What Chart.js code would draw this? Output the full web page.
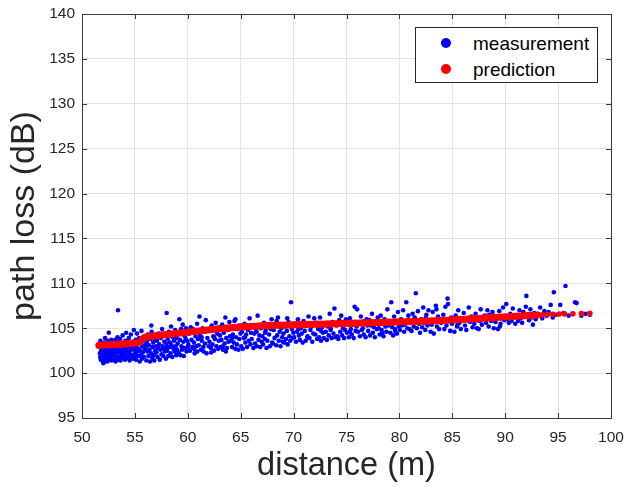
<!DOCTYPE html>
<html>
<head>
<meta charset="utf-8">
<script src="https://cdn.jsdelivr.net/npm/chart.js@4"></script>
<style>
  html, body { margin: 0; padding: 0; background: #fff; }
  #wrap { position: relative; width: 624px; height: 488px; }
  #legend { position: absolute; left: 415px; top: 27px; width: 181px; height: 54px; border: 1px solid #262626; background: #fff; font-family: "Liberation Sans", Arial, sans-serif; font-size: 19px; color: #000; }
  .dot { position: absolute; width: 10px; height: 10px; border-radius: 50%; left: 25px; }
  .lab { position: absolute; left: 57px; line-height: 22px; white-space: nowrap; }
</style>
</head>
<body>
<div id="wrap">
  <canvas id="c" width="624" height="488"></canvas>
  <div id="legend">
    <div class="dot" style="top:10px;background:#0000ff"></div>
    <div class="lab" style="top:5px">measurement</div>
    <div class="dot" style="top:36px;background:#ff0000"></div>
    <div class="lab" style="top:31px">prediction</div>
  </div>
</div>
<script>
const xTicks = [50, 55, 60, 65, 70, 75, 80, 85, 90, 95, 100];
const yTicks = [95, 100, 105, 110, 115, 120, 125, 130, 135, 140];
const seriesNames = ["measurement", "prediction"];

const measurement = [
[51.7,102.2],[51.72,101.8],[51.75,102.9],[51.78,101.5],[51.8,102.5],[51.82,103.3],[51.85,101.9],[51.88,102.7],[51.9,101.6],[51.92,103.0],[51.95,102.3],[51.97,101.3],[51.98,102.0],[51.74,103.6],[51.86,102.1],
[52.02,101.1],[52.05,102.8],[52.08,101.7],[52.1,103.4],[52.12,102.2],[52.15,101.4],[52.18,103.9],[52.2,102.6],[52.23,101.9],[52.25,102.4],[52.28,103.1],[52.3,101.6],[52.33,102.0],[52.36,102.9],[52.4,101.3],[52.43,103.6],[52.46,102.3],[52.5,101.8],[52.53,104.5],[52.56,102.7],[52.6,101.5],[52.63,103.2],[52.66,102.1],[52.7,101.7],[52.73,102.5],[52.76,103.7],[52.8,101.4],[52.84,102.8],[52.88,102.0],[52.92,103.3],[52.96,101.9],
[53.0,102.4],[53.04,101.6],[53.07,103.0],[53.1,102.1],[53.14,103.7],[53.18,101.3],[53.22,102.7],[53.25,103.5],[53.28,101.9],[53.32,102.3],[53.36,104.0],[53.4,107.0],[53.42,101.5],[53.46,102.9],[53.5,103.4],[53.53,101.8],[53.57,102.5],[53.6,103.8],[53.64,101.4],[53.68,102.2],[53.72,103.1],[53.76,101.7],[53.8,102.6],[53.84,104.2],[53.88,102.0],[53.92,103.3],[53.96,101.9],[53.98,102.8],
[54.02,102.3],[54.06,101.5],[54.1,103.6],[54.14,102.7],[54.18,104.5],[54.22,101.9],[54.26,102.4],[54.3,103.2],[54.34,101.7],[54.38,102.9],[54.42,103.9],[54.46,102.1],[54.5,101.4],[54.54,103.0],[54.58,102.5],[54.62,104.3],[54.66,101.8],[54.7,102.8],[54.74,103.5],[54.78,102.0],[54.82,101.6],[54.86,103.1],[54.9,104.8],[54.94,102.6],[54.97,103.4],[54.99,101.9],
[55.03,102.2],[55.07,103.7],[55.11,101.5],[55.15,102.9],[55.2,104.4],[55.24,102.4],[55.28,103.3],[55.32,101.9],[55.36,102.7],[55.4,103.9],[55.45,101.3],[55.5,102.5],[55.54,103.6],[55.58,102.0],[55.62,104.7],[55.66,101.6],[55.7,103.0],[55.75,102.3],[55.8,103.8],[55.85,101.8],[55.9,102.8],[55.94,104.1],[55.97,102.6],[55.99,103.2],
[56.03,102.9],[56.08,101.4],[56.13,103.5],[56.18,102.4],[56.23,104.3],[56.28,101.9],[56.33,103.1],[56.38,102.6],[56.43,101.3],[56.48,103.8],[56.53,102.2],[56.58,104.6],[56.63,101.7],[56.68,102.9],[56.73,103.4],[56.78,102.0],[56.83,101.4],[56.88,103.7],[56.92,102.5],[56.96,104.0],[56.99,103.0],[56.55,105.3],
[57.04,102.3],[57.09,103.6],[57.14,101.8],[57.2,102.8],[57.25,104.4],[57.3,103.2],[57.36,101.5],[57.41,102.6],[57.46,103.9],[57.52,102.1],[57.57,104.9],[57.62,103.0],[57.68,101.9],[57.73,102.7],[57.78,103.5],[57.83,102.4],[57.88,104.2],[57.93,101.6],[57.97,103.3],[57.99,102.9],
[58.0,106.7],[58.05,102.5],[58.1,103.8],[58.15,101.9],[58.2,104.6],[58.26,102.9],[58.31,103.4],[58.37,102.2],[58.42,105.2],[58.47,103.1],[58.53,101.8],[58.58,104.0],[58.64,102.7],[58.7,103.6],[58.75,102.4],[58.8,104.8],[58.85,103.0],[58.9,102.0],[58.95,103.9],[58.99,102.6],
[59.04,103.3],[59.09,104.5],[59.14,102.3],[59.2,106.0],[59.25,103.7],[59.3,102.0],[59.36,104.9],[59.41,103.0],[59.46,102.6],[59.52,105.4],[59.57,103.5],[59.62,101.9],[59.68,104.2],[59.73,102.8],[59.78,103.9],[59.83,105.0],[59.88,102.4],[59.93,103.6],[59.97,104.7],[59.99,102.9],
[60.05,103.2],[60.12,104.4],[60.2,102.5],[60.28,105.1],[60.35,103.7],[60.43,102.9],[60.5,104.9],[60.58,103.4],[60.65,102.2],[60.73,104.1],[60.8,103.0],[60.88,105.5],[60.95,103.8],[60.6,102.7],[60.38,104.6],[60.9,102.4],
[61.04,103.1],[61.1,106.3],[61.17,104.2],[61.25,102.6],[61.32,103.6],[61.4,105.0],[61.47,102.9],[61.55,104.6],[61.62,103.3],[61.7,105.9],[61.77,102.2],[61.85,103.9],[61.92,104.8],[61.98,103.0],[61.5,102.4],[61.3,104.0],
[62.04,103.5],[62.1,104.7],[62.18,102.8],[62.26,105.3],[62.33,103.2],[62.41,104.1],[62.48,102.5],[62.56,103.8],[62.63,105.6],[62.71,103.0],[62.78,104.4],[62.86,102.7],[62.93,103.6],[62.98,105.1],[62.5,104.0],[62.2,102.3],
[63.03,104.2],[63.1,102.9],[63.18,103.7],[63.25,105.4],[63.33,102.6],[63.4,104.5],[63.48,103.3],[63.55,106.2],[63.63,103.9],[63.7,102.8],[63.78,104.8],[63.85,103.5],[63.93,105.7],[63.98,104.1],[63.6,102.4],[63.3,103.0],
[64.04,103.6],[64.11,105.0],[64.19,102.9],[64.26,104.3],[64.34,103.4],[64.41,105.8],[64.49,102.7],[64.56,104.0],[64.64,103.2],[64.71,104.9],[64.79,102.6],[64.86,103.8],[64.93,105.3],[64.98,104.4],[64.5,106.0],[64.2,103.9],
[65.05,103.0],[65.12,104.6],[65.2,102.7],[65.28,103.9],[65.36,105.5],[65.44,103.4],[65.52,104.3],[65.6,102.9],[65.68,104.8],[65.76,103.6],[65.84,106.1],[65.92,103.2],[65.98,104.5],[65.4,104.0],
[66.04,103.8],[66.12,105.2],[66.2,102.8],[66.28,104.4],[66.36,103.3],[66.44,104.9],[66.52,103.0],[66.6,106.4],[66.68,103.7],[66.76,104.2],[66.84,102.9],[66.92,105.0],[66.98,103.5],[66.5,104.6],
[67.04,104.1],[67.12,103.2],[67.2,105.6],[67.28,103.8],[67.36,104.7],[67.44,102.8],[67.52,103.6],[67.6,105.1],[67.68,104.3],[67.76,103.0],[67.84,104.9],[67.92,106.0],[67.98,103.4],[67.3,104.5],
[68.04,103.3],[68.12,104.8],[68.2,103.9],[68.28,105.4],[68.36,103.1],[68.44,104.2],[68.52,106.2],[68.6,103.6],[68.68,104.6],[68.76,103.0],[68.84,105.0],[68.92,104.0],[68.98,103.5],[68.4,105.8],
[69.04,104.4],[69.12,103.4],[69.2,105.2],[69.28,103.8],[69.36,104.7],[69.44,103.2],[69.52,105.7],[69.6,104.1],[69.68,103.6],[69.76,107.9],[69.84,104.9],[69.92,103.9],[69.98,104.5],[69.4,106.1],
[70.05,104.0],[70.14,105.3],[70.23,103.5],[70.32,104.6],[70.41,106.0],[70.5,104.2],[70.59,103.7],[70.68,105.0],[70.77,104.4],[70.86,103.4],[70.95,105.8],[70.45,104.9],
[71.05,104.7],[71.14,103.6],[71.23,105.5],[71.32,104.1],[71.41,106.3],[71.5,103.9],[71.59,104.8],[71.68,105.2],[71.77,103.5],[71.86,104.4],[71.95,106.1],[71.3,104.0],
[72.05,104.3],[72.14,105.6],[72.23,103.8],[72.32,104.9],[72.41,104.0],[72.5,106.2],[72.59,103.6],[72.68,105.1],[72.77,104.5],[72.86,103.9],[72.95,105.4],[72.6,104.7],
[73.05,104.6],[73.14,103.7],[73.23,105.2],[73.32,104.2],[73.41,106.6],[73.5,104.8],[73.59,103.9],[73.68,105.7],[73.77,104.4],[73.86,107.2],[73.95,104.0],[73.5,105.0],
[74.05,105.3],[74.14,104.1],[74.23,103.8],[74.32,105.9],[74.41,104.6],[74.5,106.4],[74.59,104.2],[74.68,105.0],[74.77,103.9],[74.86,104.8],[74.95,106.0],[74.4,105.5],
[75.05,104.5],[75.14,105.6],[75.23,104.0],[75.32,106.1],[75.41,104.9],[75.5,104.3],[75.59,105.4],[75.68,103.9],[75.77,107.4],[75.86,104.7],[75.95,105.2],[75.3,104.6],
[76.0,107.1],[76.09,104.6],[76.18,105.5],[76.27,104.1],[76.36,106.3],[76.45,104.8],[76.54,105.0],[76.63,104.3],[76.72,105.8],[76.81,104.0],[76.9,106.0],[76.97,105.3],
[77.05,104.7],[77.14,105.9],[77.23,104.2],[77.32,105.3],[77.41,106.6],[77.5,104.5],[77.59,105.1],[77.68,104.0],[77.77,105.7],[77.86,104.9],[77.95,106.2],[77.5,105.4],
[78.05,105.0],[78.14,104.3],[78.23,106.4],[78.32,104.8],[78.41,105.5],[78.5,104.1],[78.59,106.0],[78.68,105.2],[78.77,104.6],[78.86,107.1],[78.95,105.3],[78.4,104.5],
[79.05,105.8],[79.14,104.5],[79.23,107.9],[79.32,105.1],[79.41,104.2],[79.5,106.3],[79.59,104.9],[79.68,105.6],[79.77,104.4],[79.86,106.8],[79.95,105.2],[79.6,104.7],
[80.05,104.8],[80.15,106.0],[80.25,105.3],[80.35,107.0],[80.45,104.6],[80.55,105.7],[80.65,107.9],[80.75,105.0],[80.85,106.4],[80.95,104.9],[80.5,105.4],
[81.05,105.6],[81.15,104.7],[81.25,106.6],[81.35,105.2],[81.45,106.2],[81.55,108.9],[81.65,105.0],[81.75,106.9],[81.85,105.5],[81.95,104.5],[81.5,105.9],
[82.05,106.0],[82.15,105.1],[82.25,107.3],[82.35,105.6],[82.45,104.8],[82.55,106.5],[82.65,105.3],[82.75,107.0],[82.85,105.8],[82.95,104.6],[82.5,106.2],
[83.05,105.4],[83.15,106.8],[83.25,104.4],[83.35,105.9],[83.45,107.5],[83.55,105.2],[83.65,106.3],[83.75,104.9],[83.85,106.0],[83.95,105.6],[83.5,107.1],
[84.05,105.7],[84.15,106.5],[84.25,104.9],[84.35,107.4],[84.45,105.3],[84.55,108.3],[84.6,107.7],[84.7,105.9],[84.8,104.7],[84.9,106.2],[84.97,105.5],
[85.08,105.8],[85.2,104.6],[85.32,106.4],[85.44,105.2],[85.56,107.0],[85.68,105.6],[85.8,104.9],[85.92,106.1],[85.5,105.4],
[86.08,106.7],[86.2,105.3],[86.32,104.8],[86.44,106.0],[86.56,107.3],[86.68,105.7],[86.8,106.3],[86.92,105.1],[86.5,105.9],
[87.08,105.5],[87.2,106.6],[87.32,105.0],[87.44,106.2],[87.56,105.8],[87.68,107.1],[87.8,105.4],[87.92,106.0],[87.5,104.9],
[88.08,106.4],[88.2,105.6],[88.32,107.0],[88.44,105.2],[88.56,106.1],[88.68,105.8],[88.8,106.8],[88.92,105.0],[88.5,106.5],
[89.08,105.7],[89.2,106.3],[89.32,104.9],[89.44,106.9],[89.56,105.5],[89.68,106.1],[89.8,107.3],[89.92,105.9],[89.5,105.2],
[90.1,107.7],[90.22,106.0],[90.35,105.6],[90.48,106.6],[90.6,105.8],[90.72,107.2],[90.85,106.2],[90.95,105.5],
[91.1,106.4],[91.22,105.8],[91.35,107.0],[91.48,106.1],[91.6,105.6],[91.72,106.8],[91.85,106.3],[91.95,107.4],
[92.0,108.6],[92.12,106.5],[92.25,105.9],[92.38,107.1],[92.5,106.2],[92.62,105.4],[92.75,106.7],[92.88,106.0],
[93.1,106.6],[93.3,107.3],[93.5,106.1],[93.7,106.9],[93.9,106.4],[94.1,106.8],[94.3,107.6],[94.5,106.2],[94.6,109.0],[94.8,106.5],
[95.2,107.6],[95.5,106.7],[95.7,109.7],[96.0,106.4],[96.6,107.9],[96.75,107.8],[97.2,106.4],[97.6,106.6],[98.0,106.5]
];

const prediction = [
[51.6,103.10],[51.9,103.12],[52.2,103.14],[52.5,103.16],[52.8,103.18],[53.1,103.20],[53.4,103.22],[53.7,103.24],[54.0,103.26],[54.3,103.28],[54.6,103.30],[54.9,103.33],[55.2,103.36],[55.5,103.55],[55.7,103.75],[55.9,103.95],
[56.1,104.05],[56.4,104.09],[56.7,104.13],[57.0,104.17],[57.3,104.21],[57.6,104.25],[57.9,104.29],[58.2,104.33],[58.5,104.37],[58.8,104.41],[59.1,104.45],[59.4,104.49],[59.7,104.52],
[60.0,104.56],[60.3,104.60],[60.6,104.64],[60.9,104.68],[61.2,104.72],[61.5,104.76],[61.8,104.80],[62.1,104.84],[62.4,104.88],[62.7,104.91],[63.0,104.94],[63.3,104.97],[63.6,105.00],[63.9,105.03],[64.2,105.06],[64.5,105.09],[64.8,105.12],
[65.1,105.14],[65.4,105.16],[65.7,105.18],[66.0,105.20],[66.3,105.22],[66.6,105.24],[66.9,105.26],[67.2,105.28],[67.5,105.30],[67.8,105.31],[68.1,105.32],[68.4,105.33],[68.7,105.34],[69.0,105.35],[69.3,105.36],[69.6,105.37],[69.9,105.38],
[70.2,105.39],[70.5,105.40],[70.8,105.41],[71.1,105.42],[71.4,105.43],[71.7,105.43],[72.0,105.44],[72.3,105.45],[72.6,105.46],[72.9,105.47],[73.2,105.48],[73.5,105.49],[73.8,105.50],[74.1,105.51],[74.4,105.52],[74.7,105.53],
[75.0,105.54],[75.3,105.55],[75.6,105.56],[75.9,105.57],[76.2,105.58],[76.5,105.59],[76.8,105.60],[77.1,105.61],[77.4,105.62],[77.7,105.63],[78.0,105.64],[78.3,105.65],[78.6,105.66],[78.9,105.67],[79.2,105.68],[79.5,105.69],[79.8,105.70],
[80.1,105.71],[80.4,105.72],[80.7,105.73],[81.0,105.74],[81.3,105.75],[81.6,105.76],[81.9,105.77],[82.2,105.78],[82.5,105.79],[82.8,105.80],[83.1,105.81],[83.4,105.82],[83.7,105.84],[84.0,105.86],[84.3,105.88],[84.6,105.90],[84.9,105.92],
[85.2,105.94],[85.5,105.96],[85.8,105.98],[86.1,106.00],[86.4,106.02],[86.7,106.04],[87.0,106.06],[87.3,106.08],[87.6,106.10],[87.9,106.12],[88.2,106.14],[88.5,106.16],[88.8,106.18],[89.1,106.20],[89.4,106.22],[89.7,106.24],
[90.0,106.26],[90.3,106.28],[90.6,106.30],[90.9,106.32],[91.2,106.34],[91.5,106.36],[91.8,106.38],[92.1,106.40],[92.4,106.42],[92.7,106.44],[93.0,106.46],
[93.5,106.50],[94.0,106.52],[94.5,106.55],[95.1,106.58],[95.6,106.60],[96.4,106.62],[97.2,106.64],[98.0,106.65]
];

const TXT = '#262626';
const FONT = '"Liberation Sans", Arial, sans-serif';

const boxPlugin = {
  id: 'matlabBox',
  afterDraw(chart) {
    const {ctx, chartArea: a, scales} = chart;
    ctx.save();
    ctx.strokeStyle = '#3a3a3a';
    ctx.lineWidth = 1;
    ctx.beginPath();
    const L = 5;
    scales.x.ticks.forEach(t => {
      const px = Math.round(scales.x.getPixelForValue(t.value)) + 0.5;
      ctx.moveTo(px, a.bottom); ctx.lineTo(px, a.bottom - L);
      ctx.moveTo(px, a.top); ctx.lineTo(px, a.top + L);
    });
    scales.y.ticks.forEach(t => {
      const py = Math.round(scales.y.getPixelForValue(t.value)) + 0.5;
      ctx.moveTo(a.left, py); ctx.lineTo(a.left + L, py);
      ctx.moveTo(a.right, py); ctx.lineTo(a.right - L, py);
    });
    ctx.stroke();
    ctx.strokeRect(Math.round(a.left) + 0.5, Math.round(a.top) + 0.5, Math.round(a.right - a.left), Math.round(a.bottom - a.top));
    ctx.restore();
  }
};

new Chart(document.getElementById('c'), {
  type: 'scatter',
  data: {
    datasets: [
      {
        label: seriesNames[1],
        data: prediction.map(p => ({x: p[0], y: p[1]})),
        backgroundColor: '#ff0000',
        borderWidth: 0,
        pointRadius: c => (c.raw && c.raw.x > 93.2) ? 2.8 : 3.6,
        order: 0
      },
      {
        label: seriesNames[0],
        data: measurement.map(p => ({x: p[0], y: p[1]})),
        backgroundColor: '#0000ff',
        borderWidth: 0,
        pointRadius: 2.3,
        order: 1
      }
    ]
  },
  options: {
    responsive: false,
    animation: false,
    devicePixelRatio: 1,
    layout: { padding: { top: 14, right: 13, left: 0, bottom: 0 } },
    plugins: { legend: { display: false }, tooltip: { enabled: false } },
    scales: {
      x: {
        type: 'linear', min: 50, max: 100,
        afterBuildTicks: s => { s.ticks = xTicks.map(v => ({value: v})); },
        afterFit: s => { s.height = 70; s.paddingLeft = 0; s.paddingRight = 0; },
        ticks: { color: TXT, font: { family: FONT, size: 15.5 }, padding: 10, maxRotation: 0 },
        grid: { color: '#e3e3e3', drawTicks: false },
        border: { display: false },
        title: { display: true, text: 'distance (m)', color: TXT, font: { family: FONT, size: 32.5 }, padding: { top: 0, bottom: 2 } }
      },
      y: {
        type: 'linear', min: 95, max: 140,
        afterBuildTicks: s => { s.ticks = yTicks.map(v => ({value: v})); },
        afterFit: s => { s.width = 82; s.paddingTop = 0; s.paddingBottom = 0; },
        ticks: { color: TXT, font: { family: FONT, size: 15.5 }, padding: 7 },
        grid: { color: '#e3e3e3', drawTicks: false },
        border: { display: false },
        title: { display: true, text: 'path loss (dB)', color: TXT, font: { family: FONT, size: 34 }, padding: { top: 4, bottom: 0 } }
      }
    }
  },
  plugins: [boxPlugin]
});
</script>
</body>
</html>
